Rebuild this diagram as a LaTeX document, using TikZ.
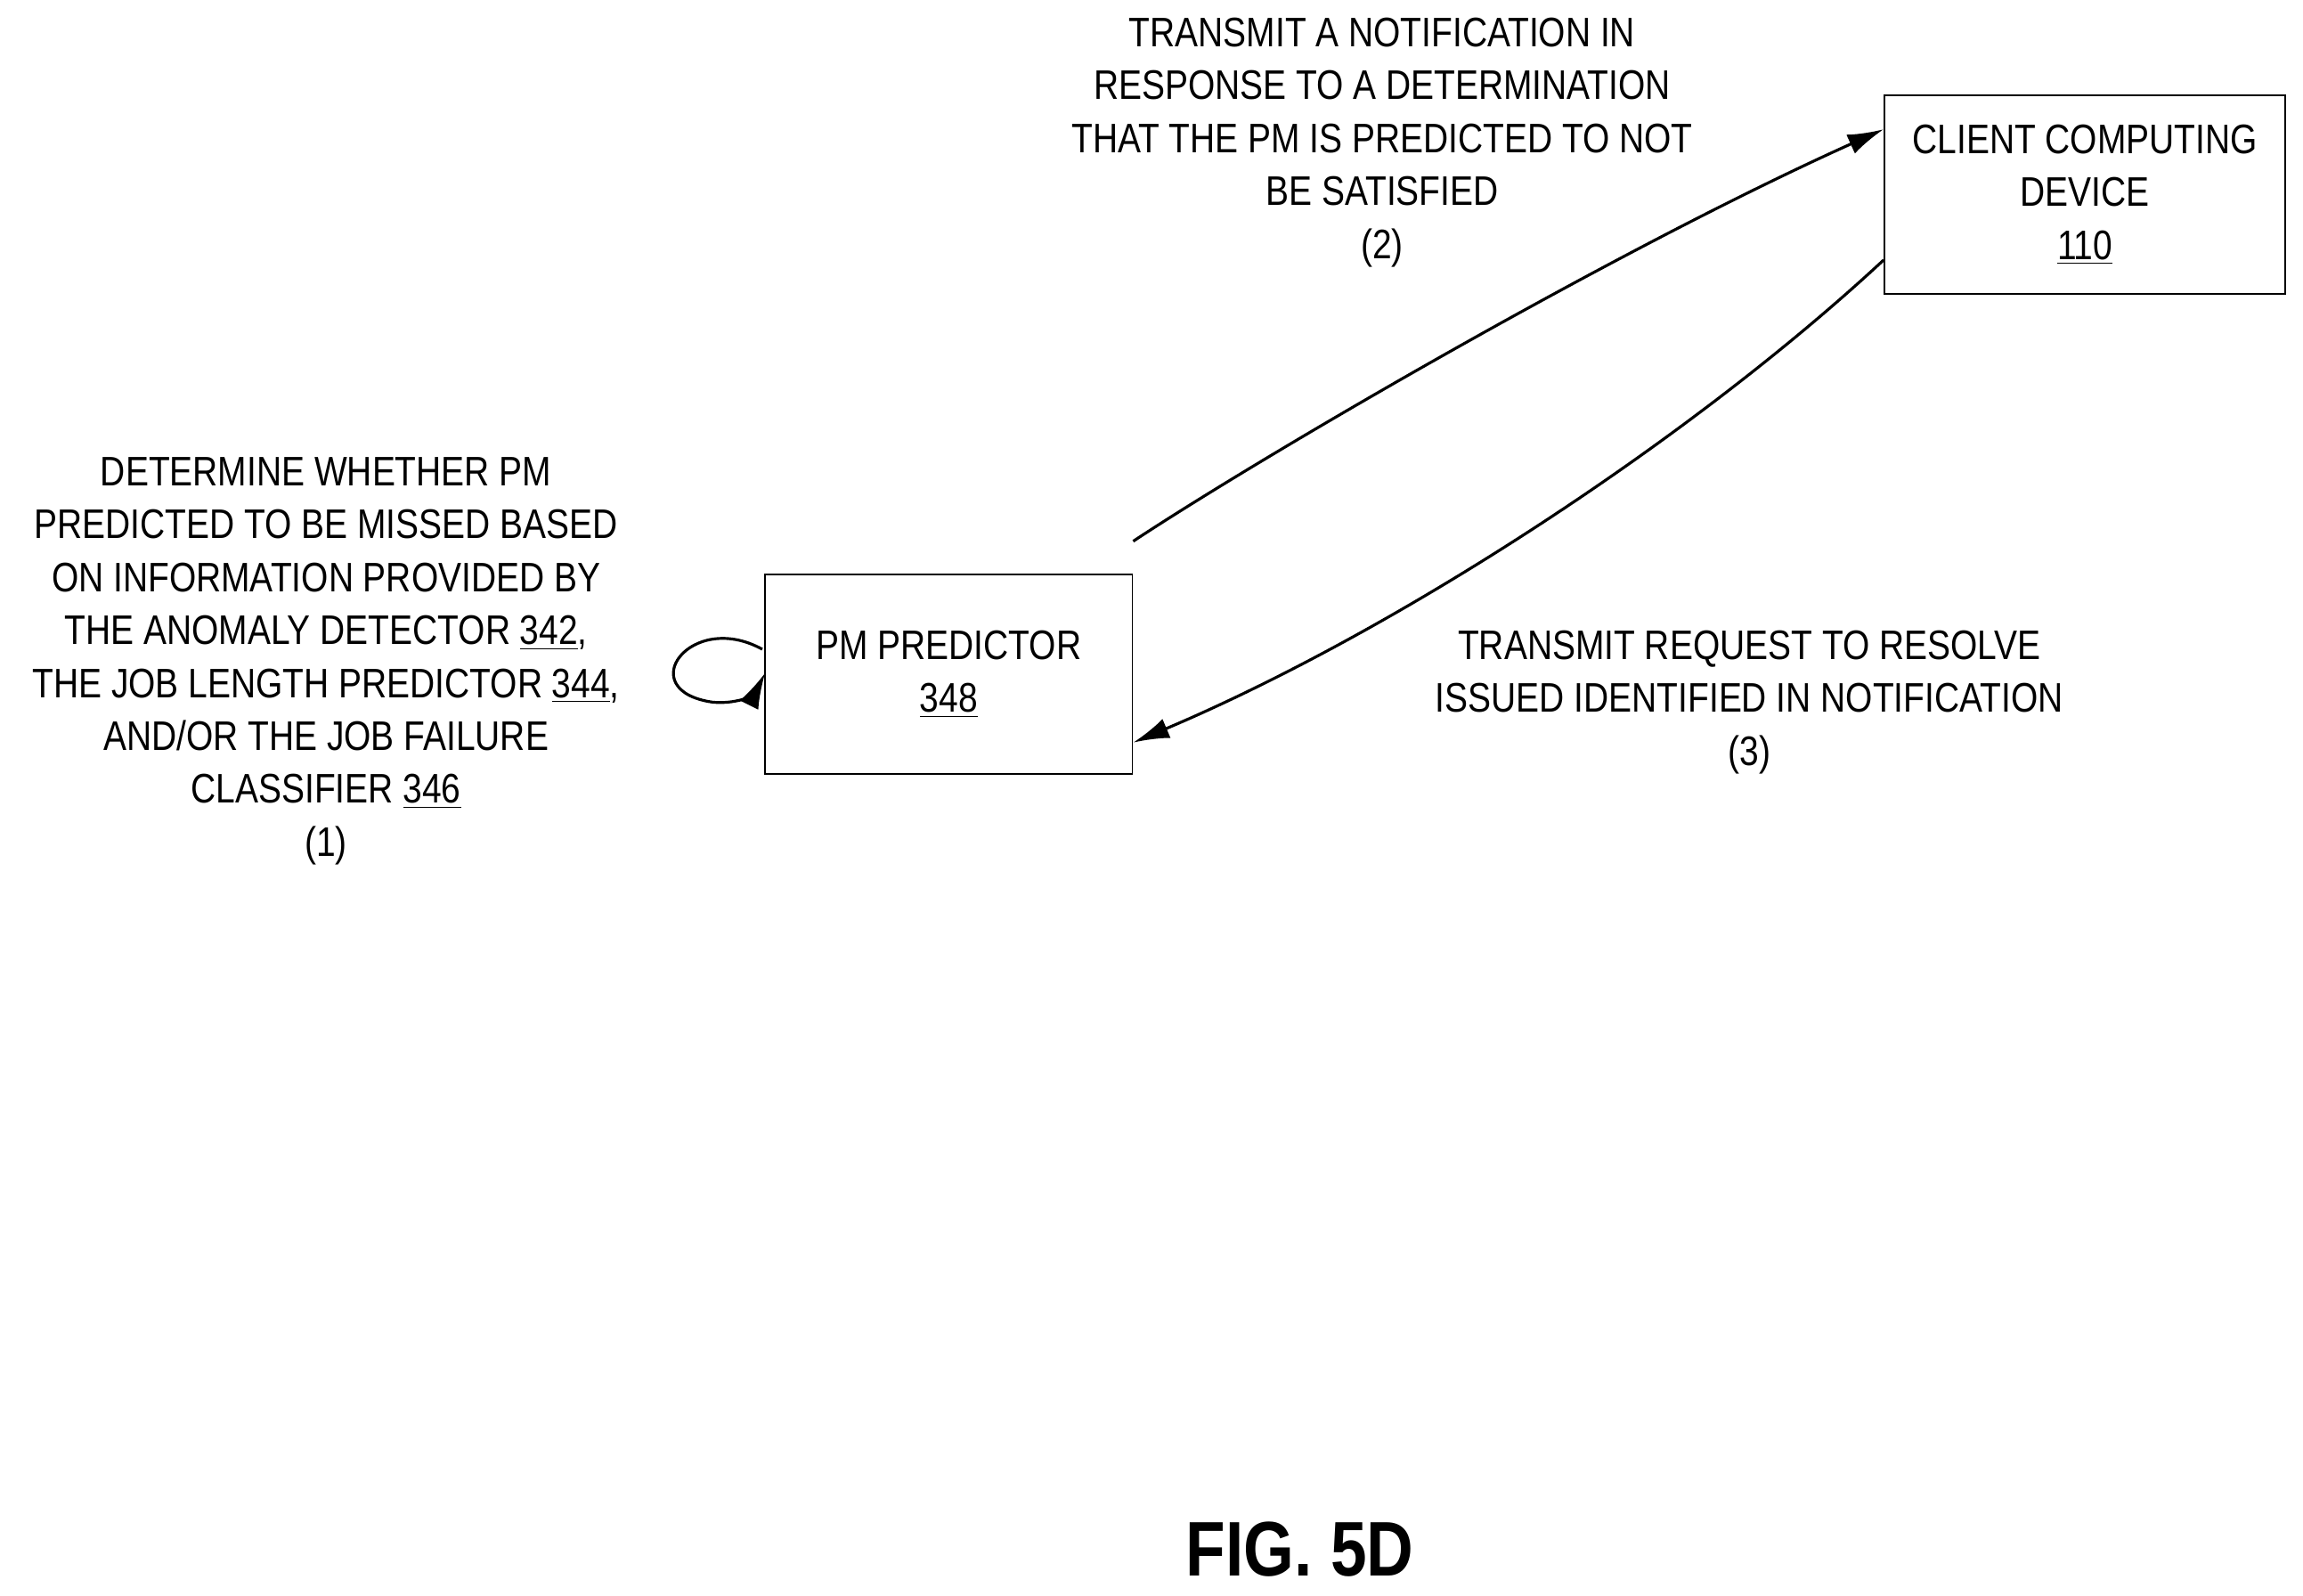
\documentclass[tikz,border=0pt]{standalone}
\usepackage{fontspec}
\setmainfont[FakeStretch=0.84]{Liberation Sans}
\usetikzlibrary{arrows.meta}
\begin{document}
\begin{tikzpicture}[x=0.02cm,y=-0.02cm,
    box/.style={draw, line width=0.6pt, minimum width=250*0.02cm, minimum height=136*0.02cm, align=center, inner sep=0pt},
    lbl/.style={align=center, font=\fontsize{16}{20.5}\selectfont},
    arr/.style={line width=1.1pt, -{Latex[length=14pt,width=8pt]}}]
    \useasboundingbox (0,0) rectangle (1568,1086);
    \node[box, lbl] (pm) at (646,459) {PM PREDICTOR\\\underline{348}};
    \node[box, lbl, minimum width=273*0.02cm, minimum height=135*0.02cm] (client) at (1419.5,132.5) {CLIENT COMPUTING\\DEVICE\\\underline{110}};

    \node[lbl] (t1) at (222,450) {DETERMINE WHETHER PM\\PREDICTED TO BE MISSED BASED\\ON INFORMATION PROVIDED BY\\THE ANOMALY DETECTOR \underline{342},\\THE JOB LENGTH PREDICTOR \underline{344},\\AND/OR THE JOB FAILURE\\CLASSIFIER \underline{346}\\(1)};
    \node[lbl] (t2) at (941,97) {TRANSMIT A NOTIFICATION IN\\RESPONSE TO A DETERMINATION\\THAT THE PM IS PREDICTED TO NOT\\BE SATISFIED\\(2)};
    \node[lbl] (t3) at (1191,478) {TRANSMIT REQUEST TO RESOLVE\\ISSUED IDENTIFIED IN NOTIFICATION\\(3)};
    \node[font=\bfseries\fontsize{30}{36}\selectfont] (fig) at (885,1055) {FIG. 5D};

    \coordinate (la) at (519,442);
    \coordinate (lb) at (521,458);
    \draw[arr] (la) .. controls (470,415) and (430,470) .. (485,478) .. controls (505,480) and (515,470) .. (lb);
    \draw[arr] (pm.north east) ++(0,-22) .. controls (860,310) and (1100,170) .. (client.west |- 0,88);
    \draw[arr] (client.west |- 0,177) .. controls (1150,300) and (950,430) .. ([yshift=22*0.02cm]pm.south east);
\end{tikzpicture}
\end{document}
